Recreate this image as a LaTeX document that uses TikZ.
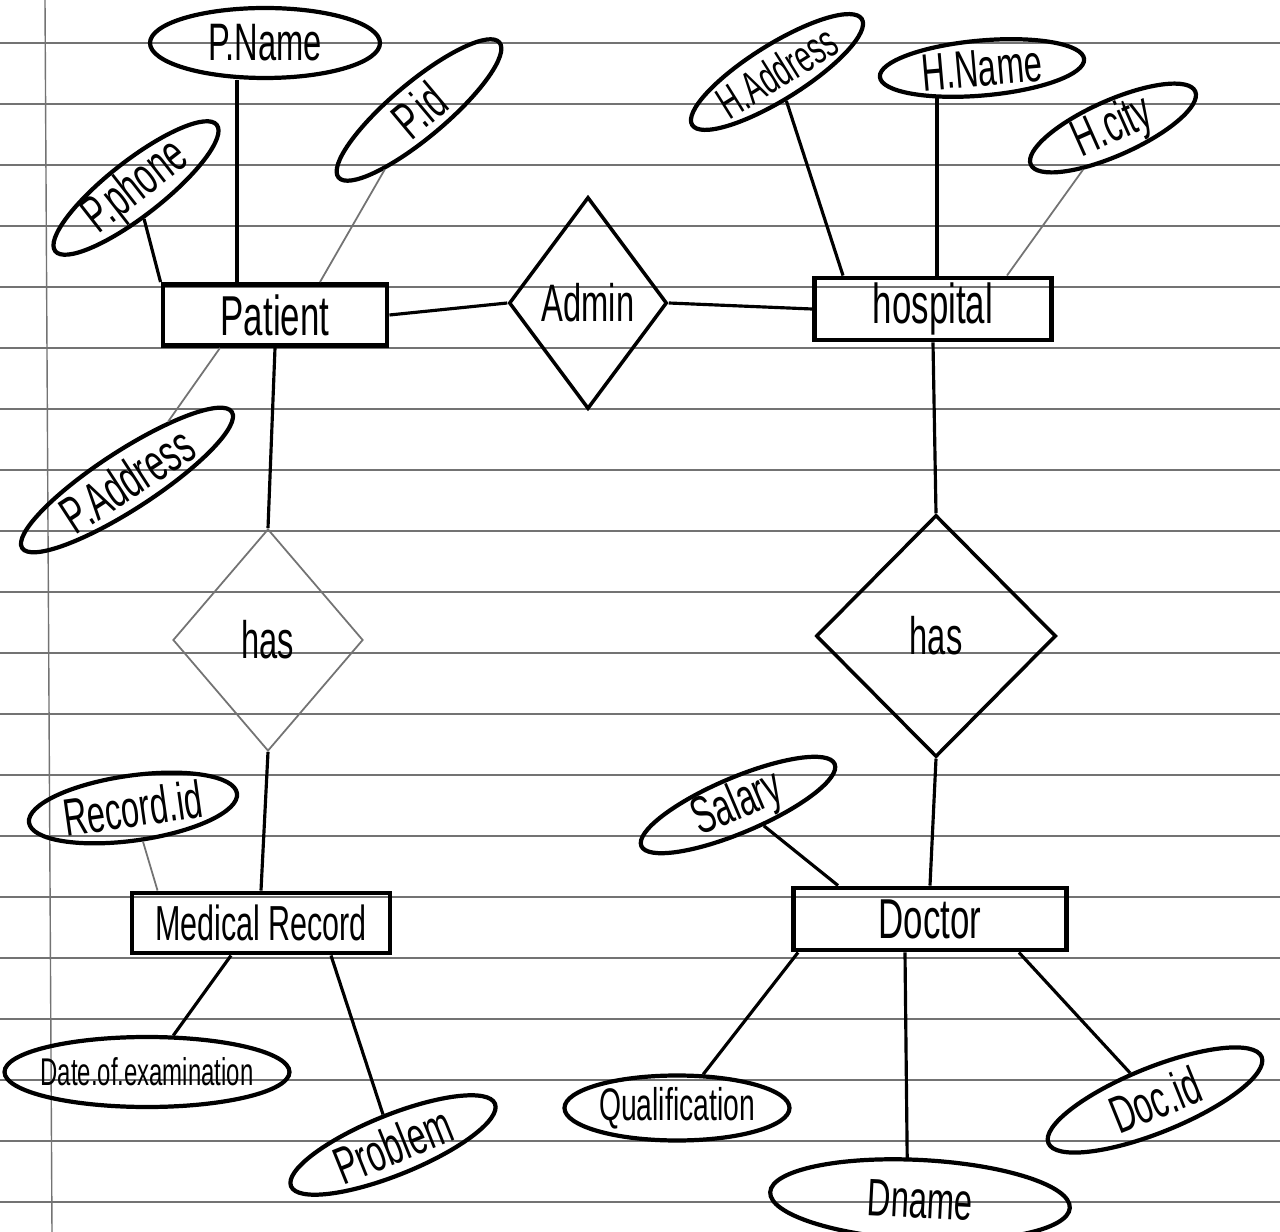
\documentclass[tikz,border=0pt]{standalone}
\usepackage{fontspec}
\newfontfamily\handfont[FakeStretch=0.62]{Liberation Sans}
\usetikzlibrary{shapes.geometric, positioning}

\tikzset{
  entity/.style={draw, rectangle, line width=1.4pt, inner sep=0pt, font=\handfont\fontsize{16}{18}\selectfont},
  attr/.style={draw, ellipse, line width=1.2pt, inner sep=0pt},
  rel/.style={draw, diamond, line width=1pt, inner sep=0pt, font=\handfont\fontsize{15}{17}\selectfont},
  link/.style={line width=0.9pt},
  faint/.style={line width=0.5pt, draw=black!55},
  rule/.style={line width=0.4pt, draw=black!55},
  every label/.style={font=\handfont\fontsize{15}{17}\selectfont, inner sep=0pt}
}

\begin{document}
\begin{tikzpicture}[x=0.1mm, y=-0.1mm]
  \useasboundingbox (0,0) rectangle (1280,1232);
  \fill[white] (0,0) rectangle (1280,1232);
  \foreach \i in {0,...,19}
    \draw[rule] (0,43+61*\i) -- (1280,43+61*\i);
  \draw[rule] (45,0) -- (52,1232);

  \node[entity, minimum width=22.4mm, minimum height=6.1mm] (patient) at (275,315) {Patient};
  \node[entity, minimum width=23.7mm, minimum height=6.2mm] (hospital) at (933,309) {hospital};
  \node[entity, minimum width=25.8mm, minimum height=6mm, font=\handfont\fontsize{14}{16}\selectfont] (medrec) at (261,923) {Medical Record};
  \node[entity, minimum width=27.3mm, minimum height=6.2mm] (doctor) at (930,919) {Doctor};

  \node[rel, minimum width=15.8mm, minimum height=21.2mm] (admin) at (588,303) {Admin};
  \node[rel, faint, minimum width=19mm, minimum height=22.2mm] (hasl) at (268,640) {has};
  \node[rel, minimum width=24mm, minimum height=24.2mm] (hasr) at (936,636) {has};

  \node[attr, minimum width=23mm, minimum height=7mm, label=center:P.Name] (pname) at (265,43) {};
  \node[attr, minimum width=21mm, minimum height=5.5mm, rotate=40, label={[rotate=40]center:P.id}] (pid) at (419,110) {};
  \node[attr, minimum width=20.5mm, minimum height=5.5mm, rotate=38, label={[rotate=38]center:P.phone}] (pphone) at (136,188) {};
  \node[attr, minimum width=25mm, minimum height=5.8mm, rotate=33, label={[rotate=33]center:P.Address}] (paddr) at (127,480) {};
  \node[attr, minimum width=20mm, minimum height=5.5mm, rotate=32, label={[rotate=32, font=\handfont\fontsize{13}{15}\selectfont]center:H.Address}] (haddr) at (777,72) {};
  \node[attr, minimum width=20.5mm, minimum height=5.5mm, rotate=5, label={[rotate=5]center:H.Name}] (hname) at (982,68) {};
  \node[attr, minimum width=18mm, minimum height=5.5mm, rotate=24, label={[rotate=24]center:H.city}] (hcity) at (1113,128) {};
  \node[attr, minimum width=21mm, minimum height=6.5mm, rotate=8, label={[rotate=8]center:Record.id}] (recid) at (133,808) {};
  \node[attr, minimum width=28.5mm, minimum height=7mm, label={[font=\handfont\fontsize{11}{13}\selectfont]center:Date.of.examination}] (exdate) at (147,1072) {};
  \node[attr, minimum width=22mm, minimum height=6mm, rotate=22, label={[rotate=22]center:Problem}] (problem) at (393,1145) {};
  \node[attr, minimum width=21mm, minimum height=5.5mm, rotate=23, label={[rotate=23]center:Salary}] (salary) at (738,805) {};
  \node[attr, minimum width=22.5mm, minimum height=6.5mm, label={[font=\handfont\fontsize{13}{15}\selectfont]center:Qualification}] (qual) at (677,1108) {};
  \node[attr, minimum width=30mm, minimum height=8mm, rotate=-3, label={[rotate=-3]center:Dname}] (dname) at (920,1200) {};
  \node[attr, minimum width=23mm, minimum height=6.5mm, rotate=22, label={[rotate=22]center:Doc.id}] (docid) at (1155,1100) {};

  \draw[link] (patient.east) -- (admin.west);
  \draw[link] (admin.east) -- (hospital.west);
  \draw[link] (patient.south) -- (hasl.north);
  \draw[link] (hasl.south) -- (medrec.north);
  \draw[link] (hospital.south) -- (hasr.north);
  \draw[link] (hasr.south) -- (doctor.north);

  \draw[link] (pphone) -- (patient.north west);
  \draw[link] ([xshift=-3.8mm]patient.north |- pname.south) -- ([xshift=-3.8mm]patient.north);
  \draw[faint] (pid) -- ([xshift=4.5mm]patient.north);
  \draw[faint] (paddr) -- ([xshift=-5.5mm]patient.south);
  \draw[link] (haddr) -- ([xshift=-9mm]hospital.north);
  \draw[link] ([xshift=0.4mm]hospital.north |- hname.south) -- ([xshift=0.4mm]hospital.north);
  \draw[faint] (hcity) -- ([xshift=7.4mm]hospital.north);
  \draw[faint] (recid) -- ([xshift=2.8mm]medrec.north west);
  \draw[link] ([xshift=-3mm]medrec.south) -- (exdate);
  \draw[link] ([xshift=7mm]medrec.south) -- (problem);
  \draw[link] (salary) -- ([xshift=4.7mm]doctor.north west);
  \draw[link] ([xshift=0.7mm]doctor.south west) -- (qual);
  \draw[link] ([xshift=-2.5mm]doctor.south) -- ([xshift=-1.5mm]dname.north);
  \draw[link] ([xshift=-5mm]doctor.south east) -- (docid);
\end{tikzpicture}
\end{document}
